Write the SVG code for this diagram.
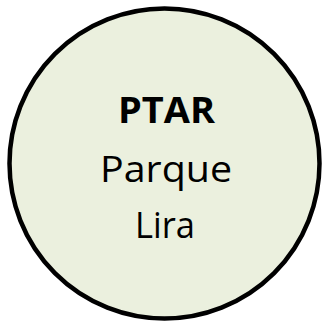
<svg xmlns="http://www.w3.org/2000/svg" width="322" height="322" viewBox="0 0 322 322">
<style>
.node{fill:#EBF0DE;stroke:#000;stroke-width:4.5}
.t{font-family:"Open Sans","Liberation Sans",sans-serif;font-size:36px;fill:#000;text-anchor:middle}
.b{font-weight:bold}
</style>
<rect width="322" height="322" fill="#fff"/>
<g id="connectors"/>
<g id="ptar">
<circle class="node" cx="164.5" cy="163.5" r="155"/>
<text class="t b" x="166.5" y="123" textLength="97" lengthAdjust="spacingAndGlyphs">PTAR</text>
<text class="t" x="166" y="182" textLength="132" lengthAdjust="spacingAndGlyphs">Parque</text>
<text class="t" x="165" y="238" textLength="60" lengthAdjust="spacingAndGlyphs">Lira</text>
</g>
</svg>
